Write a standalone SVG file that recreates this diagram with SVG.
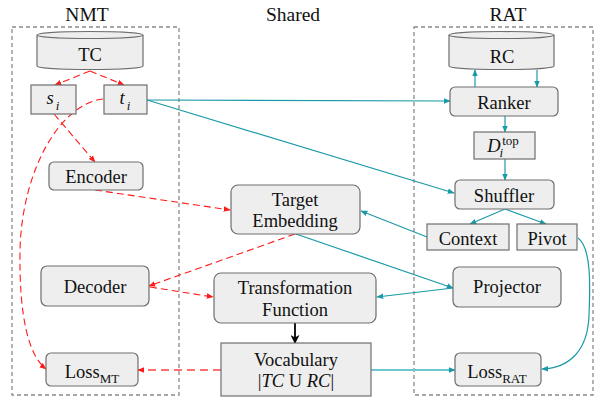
<svg xmlns="http://www.w3.org/2000/svg" width="595" height="397" viewBox="0 0 595 397">
<defs>
<style>
.grp{fill:none;stroke:#8a8a8a;stroke-width:1.3;stroke-dasharray:4,3}
.box{fill:#eeeeee;stroke:#6e6e6e;stroke-width:1.2}
.t{font-family:"Liberation Serif","Times New Roman",serif;font-size:18.5px;fill:#111;text-anchor:middle}
.ttl{font-family:"Liberation Serif","Times New Roman",serif;font-size:19.5px;fill:#111;text-anchor:middle}
.sub{font-size:13px}
.it{font-style:italic}
.red{fill:none;stroke:#ff1a1a;stroke-width:1.1;stroke-dasharray:7,4}
.red2{fill:none;stroke:#ff7070;stroke-width:2;stroke-dasharray:8,5}
.teal{fill:none;stroke:#1a9aa8;stroke-width:1.2}
.teal2{fill:none;stroke:#6cc8d0;stroke-width:2.2}
</style>
<marker id="ar" viewBox="0 0 10 10" refX="9" refY="5" markerWidth="7" markerHeight="7" markerUnits="userSpaceOnUse" orient="auto"><path d="M0,1 L10,5 L0,9 Z" fill="#ff1a1a"/></marker>
<marker id="at" viewBox="0 0 10 10" refX="9" refY="5" markerWidth="7" markerHeight="7" markerUnits="userSpaceOnUse" orient="auto"><path d="M0,1 L10,5 L0,9 Z" fill="#1a9aa8"/></marker>
<marker id="ak" viewBox="0 0 10 10" refX="9" refY="5" markerWidth="9" markerHeight="9" markerUnits="userSpaceOnUse" orient="auto"><path d="M0,0 L10,5 L0,10 L3,5 Z" fill="#000"/></marker>
</defs>
<rect width="595" height="397" fill="#fff"/>

<g id="groups">
<rect class="grp" x="12" y="27" width="167" height="368"/>
<rect class="grp" x="414" y="27" width="179" height="368"/>
<text class="ttl" x="87" y="21">NMT</text>
<text class="ttl" x="293" y="21">Shared</text>
<text class="ttl" x="508" y="21">RAT</text>
</g>

<g id="connectors">
<line class="red" x1="90" y1="71" x2="55" y2="85" marker-end="url(#ar)"/>
<line class="red" x1="90" y1="71" x2="124" y2="85" marker-end="url(#ar)"/>
<line class="red" x1="54" y1="114" x2="95" y2="162" marker-end="url(#ar)"/>
<path class="red" d="M103,99 C60,104 22,170 20,250 C19,315 28,355 46,369" marker-end="url(#ar)"/>
<line class="red" x1="95" y1="190" x2="230" y2="210" marker-end="url(#ar)"/>
<line class="red" x1="295" y1="234" x2="149" y2="286" marker-end="url(#ar)"/>
<line class="red" x1="150" y1="287" x2="213" y2="297" marker-end="url(#ar)"/>
<line class="red2" x1="221" y1="370" x2="138" y2="370" marker-end="url(#ar)"/>

<line class="teal" x1="147" y1="100" x2="450" y2="101" marker-end="url(#at)"/>
<line class="teal" x1="147" y1="100" x2="454" y2="193" marker-end="url(#at)"/>
<line class="teal" x1="475" y1="87" x2="475" y2="70" marker-end="url(#at)"/>
<line class="teal" x1="537" y1="70" x2="537" y2="87" marker-end="url(#at)"/>
<line class="teal" x1="505" y1="116" x2="505" y2="132" marker-end="url(#at)"/>
<line class="teal" x1="505" y1="159" x2="505" y2="180" marker-end="url(#at)"/>
<line class="teal" x1="505" y1="209" x2="470" y2="224" marker-end="url(#at)"/>
<line class="teal" x1="505" y1="209" x2="546" y2="224" marker-end="url(#at)"/>
<line class="teal" x1="427" y1="237" x2="361" y2="211" marker-end="url(#at)"/>
<line class="teal" x1="296" y1="234" x2="453" y2="288" marker-end="url(#at)"/>
<line class="teal" x1="453" y1="288" x2="377" y2="297" marker-end="url(#at)"/>
<line class="teal2" x1="371" y1="370" x2="455" y2="370" marker-end="url(#at)"/>
<path class="teal" d="M578,238 C592,248 590,290 589,315 C588,350 570,368 542,369" marker-end="url(#at)"/>
<line x1="295" y1="323" x2="295" y2="343" stroke="#000" stroke-width="1.8" marker-end="url(#ak)"/>
</g>

<g id="TC">
<path class="box" d="M37,35 L37,66 A53,3.5 0 0 0 143,66 L143,35"/>
<ellipse class="box" cx="90" cy="35" rx="53" ry="3.5"/>
<text class="t" x="90" y="61">TC</text>
</g>
<g id="si">
<rect class="box" x="31" y="85" width="45" height="29"/>
<text class="t" x="53" y="104"><tspan class="it">s</tspan><tspan class="it sub" dx="2" dy="6">i</tspan></text>
</g>
<g id="ti">
<rect class="box" x="104" y="85" width="43" height="29"/>
<text class="t" x="125" y="104"><tspan class="it">t</tspan><tspan class="it sub" dx="2" dy="6">i</tspan></text>
</g>
<g id="Encoder">
<rect class="box" x="49" y="162" width="94" height="28" rx="5"/>
<text class="t" x="96" y="183">Encoder</text>
</g>
<g id="Decoder">
<rect class="box" x="41" y="266" width="108" height="40" rx="6"/>
<text class="t" x="95" y="293">Decoder</text>
</g>
<g id="LossMT">
<rect class="box" x="46" y="353" width="92" height="33" rx="5"/>
<text class="t" x="92" y="378">Loss<tspan class="sub" dy="5">MT</tspan></text>
</g>

<g id="TargetEmbedding">
<rect class="box" x="231" y="185" width="129" height="49" rx="7"/>
<text class="t" x="295" y="206">Target</text>
<text class="t" x="295" y="227">Embedding</text>
</g>
<g id="TransformationFunction">
<rect class="box" x="214" y="273" width="162" height="50" rx="7"/>
<text class="t" x="295" y="294">Transformation</text>
<text class="t" x="295" y="316">Function</text>
</g>
<g id="Vocabulary">
<rect class="box" x="221" y="343" width="150" height="53"/>
<text class="t" x="296" y="366">Vocabulary</text>
<text class="t" x="296" y="387">|<tspan class="it">TC</tspan> U <tspan class="it">RC</tspan>|</text>
</g>

<g id="RC">
<path class="box" d="M449,35 L449,66 A52.5,3.5 0 0 0 554,66 L554,35"/>
<ellipse class="box" cx="501.5" cy="35" rx="52.5" ry="3.5"/>
<text class="t" x="502" y="63">RC</text>
</g>
<g id="Ranker">
<rect class="box" x="450" y="87" width="108" height="29" rx="5"/>
<text class="t" x="504" y="109">Ranker</text>
</g>
<g id="Dtop">
<rect class="box" x="474" y="132" width="61" height="27"/>
<text class="t" x="503" y="152"><tspan class="it">D</tspan><tspan class="it sub" dx="-1" dy="5">i</tspan><tspan class="sub" dx="-1" dy="-12">top</tspan></text>
</g>
<g id="Shuffler">
<rect class="box" x="455" y="180" width="99" height="29" rx="5"/>
<text class="t" x="504" y="202">Shuffler</text>
</g>
<g id="Context">
<rect class="box" x="427" y="224" width="82" height="26"/>
<text class="t" x="468" y="245">Context</text>
</g>
<g id="Pivot">
<rect class="box" x="517" y="224" width="60" height="26"/>
<text class="t" x="547" y="245">Pivot</text>
</g>
<g id="Projector">
<rect class="box" x="453" y="267" width="108" height="40" rx="6"/>
<text class="t" x="507" y="293">Projector</text>
</g>
<g id="LossRAT">
<rect class="box" x="455" y="353" width="86" height="33" rx="5"/>
<text class="t" x="497" y="378">Loss<tspan class="sub" dy="5">RAT</tspan></text>
</g>
</svg>
